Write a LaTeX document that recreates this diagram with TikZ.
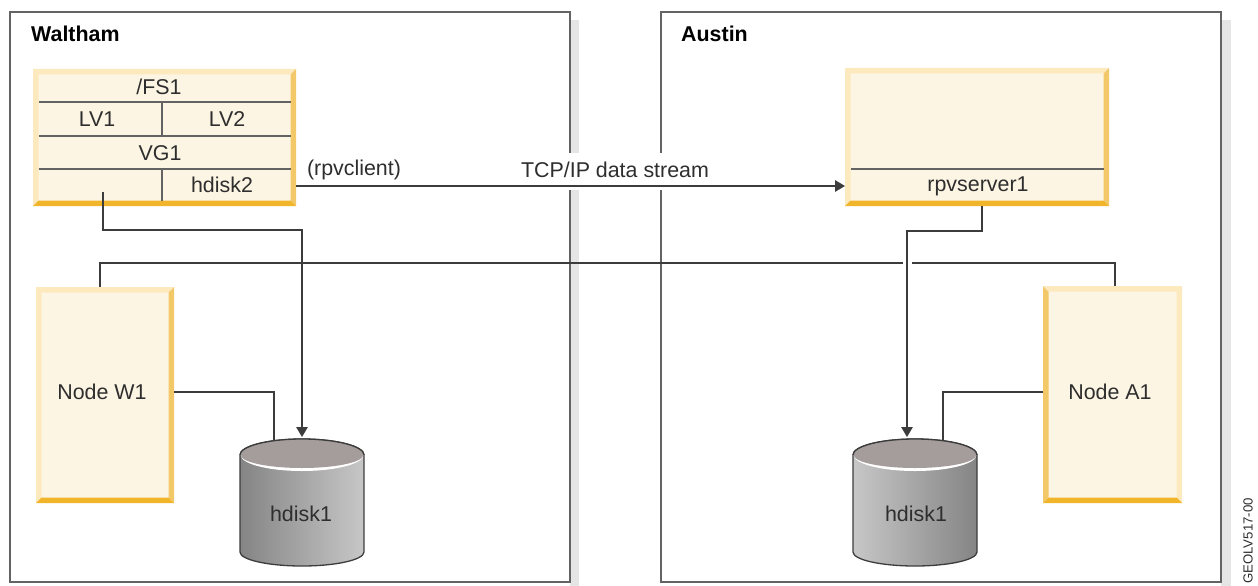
\documentclass[tikz,border=0pt]{standalone}
\usepackage{fontspec}
\setmainfont{Liberation Sans}
\usetikzlibrary{arrows.meta,calc}
\definecolor{bevL}{HTML}{FDE9BE}
\definecolor{bevD}{HTML}{F3C869}
\definecolor{bevB}{HTML}{F1B52B}
\definecolor{boxF}{HTML}{FDF5E3}
\definecolor{ln}{HTML}{3C3C3C}
\definecolor{txt}{HTML}{2E2E2E}
\definecolor{topF}{HTML}{A59D9B}
\tikzset{
  x=1pt,y=-1pt,
  shadowbar/.style={fill=black!10,draw=none},
  lbl/.style={font=\fontsize{21.4}{25}\selectfont,text=txt,inner sep=0pt},
  sitelbl/.style={font=\fontsize{21.4}{25}\selectfont\bfseries,text=black,inner sep=0pt,anchor=base west},
  inner line/.style={draw=ln!80!white,line width=1.2pt},
  conn/.style={draw=ln,line width=1.3pt},
  tip/.style={-{Triangle[length=10pt,width=11.5pt]}},
  arrowconn/.style={conn,tip,shorten >=2pt},
  bare/.style={inner sep=0pt,outer sep=0pt},
  sitebox/.style={bare,draw=ln!80!white,line width=1.5pt,fill=white,minimum width=560,minimum height=570,anchor=north west},
}
% \bevelbox{name}{x1}{y1}{x2}{y2}{left colour}{right colour}
\newcommand{\bevelbox}[7]{%
  \node[bare,fill=boxF,minimum width=#4-#2,minimum height=#5-#3,anchor=north west] (#1) at (#2,#3) {};
  \fill[#6] (#2,#3) -- (#2+5.5,#3+5.5) -- (#2+5.5,#5-5.5) -- (#2,#5) -- cycle;
  \fill[bevL] (#2,#3) -- (#4,#3) -- (#4-5.5,#3+5.5) -- (#2+5.5,#3+5.5) -- cycle;
  \fill[#7] (#4,#3) -- (#4-5.5,#3+5.5) -- (#4-5.5,#5-5.5) -- (#4,#5) -- cycle;
  \fill[bevB] (#2,#5) -- (#2+5.5,#5-5.5) -- (#4-5.5,#5-5.5) -- (#4,#5) -- cycle;
}
% \diskshape{name}{x1}{x2}{left colour}{right colour}
\newcommand{\diskshape}[5]{%
  \node[bare,minimum width=#3-#2,minimum height=127,anchor=north west] (#1) at (#2,439) {};
  \path[left color=#4,right color=#5,draw=ln,line width=1.3pt]
    (#2,455) -- (#2,552) arc[start angle=180,end angle=0,x radius=(#3-#2)/2,y radius=14]
    -- (#3,455) arc[start angle=360,end angle=180,x radius=(#3-#2)/2,y radius=16] -- cycle;
  \path[fill=white] (#2+0.7,455) arc[start angle=180,end angle=0,x radius=(#3-#2)/2-0.7,y radius=16]
    arc[start angle=360,end angle=180,x radius=(#3-#2)/2-0.7,y radius=16] -- cycle;
  \path[fill=topF] (#2+0.7,455) arc[start angle=180,end angle=0,x radius=(#3-#2)/2-0.7,y radius=13]
    arc[start angle=360,end angle=180,x radius=(#3-#2)/2-0.7,y radius=16] -- cycle;
  \draw[ln,line width=1.3pt] (#2,455) arc[start angle=180,end angle=360,x radius=(#3-#2)/2,y radius=16];
}
\begin{document}
\begin{tikzpicture}
\useasboundingbox (0,0) rectangle (1258,586);
% site frames
\fill[shadowbar] (570,20) rectangle (579,586);
\fill[shadowbar] (1221,20) rectangle (1231,586);
\node[sitebox] (waltham) at (10,12) {};
\node[sitebox] (austin) at (661,12) {};
\node[sitelbl] (wl) at (31,42) {Waltham};
\node[sitelbl] (al) at (681,42) {Austin};
% white band behind the data stream label
\fill[white] (518,153) rectangle (713,190);
% boxes
\bevelbox{vg}{33}{69}{296}{206}{bevL}{bevD}
\bevelbox{rpv}{845}{68}{1109}{206}{bevL}{bevD}
\bevelbox{w1}{36}{287}{174}{503}{bevL}{bevD}
\bevelbox{a1}{1043}{286}{1182}{503}{bevD}{bevL}
% compartments
\draw[inner line] (38.5,102) -- (290.5,102) (38.5,136) -- (290.5,136) (38.5,169) -- (290.5,169)
  (162,102) -- (162,136) (162,169) -- (162,200.5);
\draw[inner line] (850.5,169) -- (1103.5,169);
\node[lbl] (fs) at (159,87) {/FS1};
\node[lbl] (lv1) at (97,119) {LV1};
\node[lbl] (lv2) at (227,119) {LV2};
\node[lbl] (vg1) at (160,153) {VG1};
\node[lbl] (hd2) at (222,185) {hdisk2};
\node[lbl] (srv) at (978,186) {rpvserver1};
\node[lbl] (w1t) at (102,392) {Node W1};
\node[lbl] (a1t) at (1110,392) {Node A1};
\node[lbl] (cl) at (354,170) {(rpvclient)};
\node[lbl] (tcp) at (615,170) {TCP/IP data stream};
% disks
\diskshape{d1}{240}{364}{black!48}{black!22}
\diskshape{d2}{853}{977}{black!22}{black!48}
\node[lbl] (d1t) at (301,514) {hdisk1};
\node[lbl] (d2t) at (916,514) {hdisk1};
% connectors
\coordinate (vgout) at (103,192);
\coordinate (vgbend) at (103,230);
\draw[arrowconn] (vgout) -- (vgbend) -- (vgbend -| d1.north) -- (d1.north);
\coordinate (vgport) at (296,186);
\draw[conn,tip] (vgport) -- (vgport -| rpv.west);
\coordinate (srvport) at (982,206);
\coordinate (srvbend) at (907,231);
\draw[arrowconn] (srvport) -- (srvport |- srvbend) -- (srvbend) -- (srvbend |- d2.north);
\draw[conn] (w1t -| w1.east) -- (274,392) -- (274,441);
\draw[conn] (a1t -| a1.west) -- (943,392) -- (943,441);
\coordinate (w1top) at (100,287);
\coordinate (a1top) at (1115,286);
\draw[conn] (w1top) -- (100,263) -- (903,263);
\draw[conn] (912,263) -- (1115,263) -- (a1top);
\node[font=\fontsize{13.2}{15}\selectfont,text=txt,inner sep=0pt,rotate=90,anchor=east] (id) at (1248,498) {GEOLV517-00};
\end{tikzpicture}
\end{document}
